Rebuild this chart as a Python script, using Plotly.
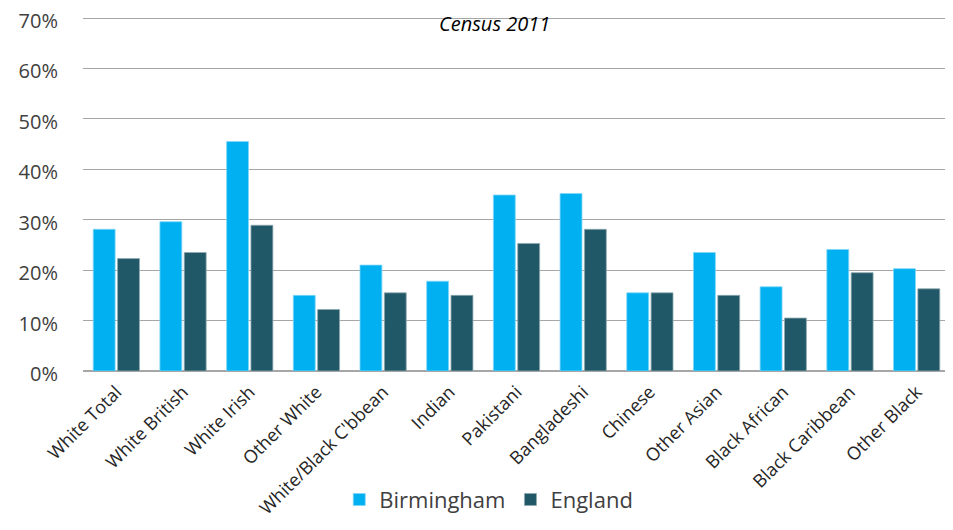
import plotly.graph_objects as go

categories = ["White Total", "White British", "White Irish", "Other White",
              "White/Black C'bbean", "Indian", "Pakistani", "Bangladeshi",
              "Chinese", "Other Asian", "Black African", "Black Caribbean", "Other Black"]
birmingham = [28.1, 29.6, 45.5, 15.0, 21.0, 17.8, 34.9, 35.2, 15.5, 23.5, 16.7, 24.1, 20.3]
england = [22.3, 23.5, 28.9, 12.2, 15.5, 15.0, 25.3, 28.1, 15.5, 15.0, 10.5, 19.5, 16.3]
y_ticks = [0, 10, 20, 30, 40, 50, 60, 70]
y_tick_labels = [f"{v}%" for v in y_ticks]

FONT = "Open Sans"
TXT = "#404040"

fig = go.Figure()
fig.add_trace(go.Bar(x=categories, y=birmingham, name="Birmingham",
                     marker=dict(color="#00B0F0", line=dict(color="#7FD7F7", width=0.8))))
fig.add_trace(go.Bar(x=categories, y=england, name="England",
                     marker=dict(color="#215868", line=dict(color="#8FA9B0", width=0.8))))

# page has an 8px body margin, so the figure is sized/offset to compensate
fig.update_layout(
    width=945, height=522,
    margin=dict(l=75, r=3, t=9, b=159),
    paper_bgcolor="white", plot_bgcolor="white",
    barmode="group", bargap=0.27, bargroupgap=0.1,
    font=dict(family=FONT, color=TXT),
    showlegend=True,
    legend=dict(orientation="h", x=0.468, xanchor="center", xref="paper",
                y=-0.3635, yanchor="middle", font=dict(size=22, color=TXT),
                itemwidth=30, traceorder="normal"),
    xaxis=dict(tickangle=-45, tickfont=dict(size=18, color="#262626"), showgrid=False,
               showline=False, ticks="", automargin=False, ticklabelstandoff=6),
    yaxis=dict(range=[0, 70.2], tickvals=y_ticks, ticktext=y_tick_labels,
               tickfont=dict(size=20, color=TXT), showgrid=True,
               gridcolor="#A6A6A6", gridwidth=1.3, zeroline=True,
               zerolinecolor="#A6A6A6", zerolinewidth=1.5, ticklabelstandoff=24,
               ticklabelshift=3,
               showline=False, automargin=False, ticklabeloverflow="allow"),
)
fig.add_annotation(text="<i>Census 2011</i>", xref="paper", yref="paper",
                   x=(486 - 75) / 867, y=1, yshift=9, xanchor="center", yanchor="top",
                   showarrow=False, font=dict(size=20, color="#000000", family=FONT))

fig.write_html("out.html")
